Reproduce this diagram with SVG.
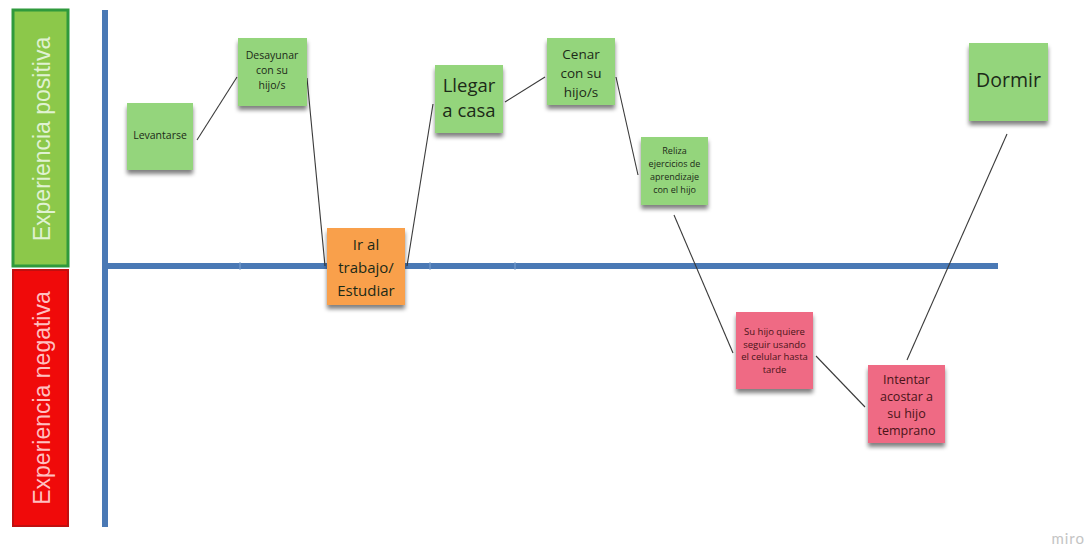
<svg xmlns="http://www.w3.org/2000/svg" width="1091" height="549" viewBox="0 0 1091 549">
  <defs>
    <filter id="shadow" x="-20%" y="-20%" width="140%" height="150%">
      <feGaussianBlur in="SourceAlpha" stdDeviation="2.2"/>
      <feOffset dx="0" dy="4" result="b"/>
      <feComponentTransfer><feFuncA type="linear" slope="0.5"/></feComponentTransfer>
      <feMerge><feMergeNode/><feMergeNode in="SourceGraphic"/></feMerge>
    </filter>
  </defs>
  <style>
    .green { fill: #94d57c; }
    .orange { fill: #f9a04b; }
    .pink { fill: #ef6a84; }
    .note text { font-family: "Open Sans", "Liberation Sans", sans-serif; text-anchor: middle; fill: #1c2a18; }
    .pink-note text { fill: #4a1418; }
    .band-label { font-family: "Liberation Sans", Arial, sans-serif; font-size: 23px; text-anchor: middle; dominant-baseline: central; }
    .axis { stroke: #4a79b5; stroke-width: 6; fill: none; }
    .tick { stroke: #7fa3cf; stroke-width: 1; }
    .link { stroke: #3a3a3a; stroke-width: 1.1; fill: none; }
  </style>
  <rect width="1091" height="549" fill="#ffffff"/>

  <!-- side bands -->
  <g id="band-positive">
    <rect x="13" y="10" width="55" height="256" fill="#8cc84a" stroke="#2f9a3c" stroke-width="3"/>
    <text class="band-label" transform="translate(42 139) rotate(-90)" fill="#e0f2d2">Experiencia positiva</text>
  </g>
  <g id="band-negative">
    <rect x="13" y="270" width="55" height="256" fill="#f00a0a" stroke="#c01010" stroke-width="2"/>
    <text class="band-label" transform="translate(42 398) rotate(-90)" fill="#ffc0c0">Experiencia negativa</text>
  </g>

  <!-- axes -->
  <g id="axes">
    <line class="axis" x1="105" y1="10" x2="105" y2="527"/>
    <line class="axis" x1="105" y1="266" x2="998" y2="266"/>
    <line class="tick" x1="240" y1="262" x2="240" y2="270"/>
    <line class="tick" x1="430" y1="262" x2="430" y2="270"/>
    <line class="tick" x1="515" y1="262" x2="515" y2="270"/>
  </g>

  <!-- connectors -->
  <g id="connectors">
    <line class="link" x1="197" y1="140" x2="237" y2="77"/>
    <line class="link" x1="307" y1="78" x2="325" y2="266"/>
    <line class="link" x1="407" y1="266" x2="433" y2="104"/>
    <line class="link" x1="505" y1="102" x2="545" y2="77"/>
    <line class="link" x1="616" y1="77" x2="638" y2="175"/>
    <line class="link" x1="674" y1="215" x2="733" y2="353"/>
    <line class="link" x1="816" y1="356" x2="865" y2="407"/>
    <line class="link" x1="907" y1="360" x2="1007" y2="134"/>
  </g>

  <!-- sticky notes -->
  <g id="levantarse" class="note">
    <rect class="green" x="127" y="103" width="66" height="67" filter="url(#shadow)"/>
    <text x="160" y="139" font-size="10.5">Levantarse</text>
  </g>
  <g id="desayunar" class="note">
    <rect class="green" x="238" y="38" width="69" height="68" filter="url(#shadow)"/>
    <text font-size="10.5"><tspan x="272" y="59">Desayunar</tspan><tspan x="272" y="74">con su</tspan><tspan x="272" y="89">hijo/s</tspan></text>
  </g>
  <g id="ir-al-trabajo" class="note">
    <rect class="orange" x="327" y="228" width="78" height="77" filter="url(#shadow)"/>
    <text font-size="15"><tspan x="366" y="250">Ir al</tspan><tspan x="366" y="273">trabajo/</tspan><tspan x="366" y="296">Estudiar</tspan></text>
  </g>
  <g id="llegar-a-casa" class="note">
    <rect class="green" x="435" y="65" width="68" height="68" filter="url(#shadow)"/>
    <text font-size="18.5"><tspan x="469" y="92">Llegar</tspan><tspan x="469" y="117">a casa</tspan></text>
  </g>
  <g id="cenar" class="note">
    <rect class="green" x="547" y="38" width="68" height="67" filter="url(#shadow)"/>
    <text font-size="13.5"><tspan x="581" y="59">Cenar</tspan><tspan x="581" y="78">con su</tspan><tspan x="581" y="97">hijo/s</tspan></text>
  </g>
  <g id="reliza-ejercicios" class="note">
    <rect class="green" x="641" y="137" width="67" height="68" filter="url(#shadow)"/>
    <text font-size="9"><tspan x="674.5" y="154">Reliza</tspan><tspan x="674.5" y="167">ejercicios de</tspan><tspan x="674.5" y="180">aprendizaje</tspan><tspan x="674.5" y="193">con el hijo</tspan></text>
  </g>
  <g id="celular" class="note pink-note">
    <rect class="pink" x="736" y="312" width="77" height="77" filter="url(#shadow)"/>
    <text font-size="9.5"><tspan x="774.5" y="335">Su hijo quiere</tspan><tspan x="774.5" y="347.5">seguir usando</tspan><tspan x="774.5" y="360">el celular hasta</tspan><tspan x="774.5" y="372.5">tarde</tspan></text>
  </g>
  <g id="intentar-acostar" class="note pink-note">
    <rect class="pink" x="868" y="365" width="77" height="78" filter="url(#shadow)"/>
    <text font-size="12.5"><tspan x="906.5" y="384">Intentar</tspan><tspan x="906.5" y="401">acostar a</tspan><tspan x="906.5" y="418">su hijo</tspan><tspan x="906.5" y="435">temprano</tspan></text>
  </g>
  <g id="dormir" class="note">
    <rect class="green" x="969" y="43" width="79" height="78" filter="url(#shadow)"/>
    <text x="1008.5" y="87" font-size="19.5">Dormir</text>
  </g>

  <text x="1085" y="544" font-family="Lato, 'Liberation Sans', sans-serif" font-size="15" fill="#c4c4c4" text-anchor="end" letter-spacing="1">miro</text>
</svg>
